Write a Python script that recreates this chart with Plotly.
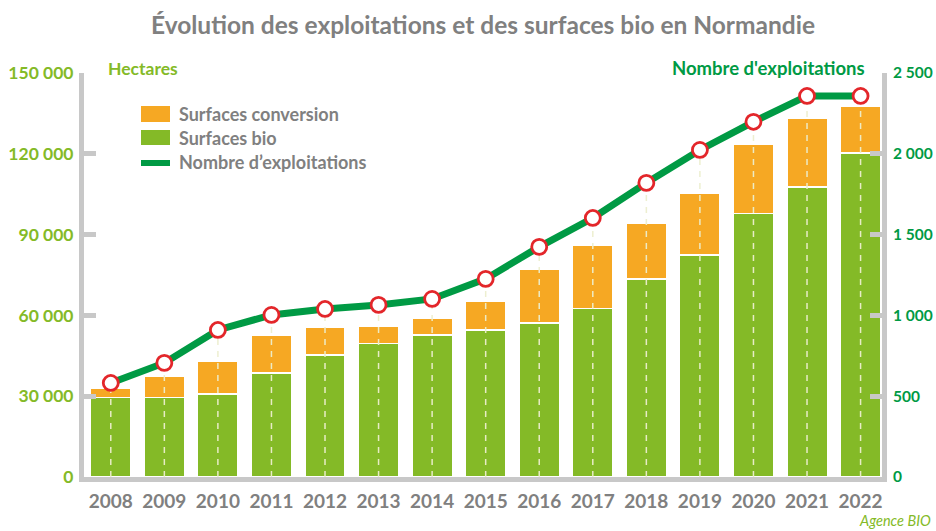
import plotly.graph_objects as go

years = ["2008", "2009", "2010", "2011", "2012", "2013", "2014", "2015",
         "2016", "2017", "2018", "2019", "2020", "2021", "2022"]
surfaces_bio = [29400, 29500, 30800, 38600, 45300, 49700, 52700, 54600,
                57200, 62700, 73500, 82400, 97800, 107700, 120300]
surfaces_totales = [33000, 37500, 43000, 52700, 55700, 56000, 59000, 65300,
                    76900, 86100, 94300, 105400, 123600, 133300, 137700]
exploitations = [582, 706, 910, 1003, 1040, 1065, 1102, 1226,
                 1424, 1603, 1820, 2024, 2198, 2358, 2358]
surfaces_conversion = [t - b for t, b in zip(surfaces_totales, surfaces_bio)]

left_ticks = [0, 30000, 60000, 90000, 120000, 150000]
left_text = ["0", "30 000", "60 000", "90 000", "120 000", "150 000"]
right_ticks = [0, 500, 1000, 1500, 2000, 2500]
right_text = ["0", "500", "1 000", "1 500", "2 000", "2 500"]

ORANGE = "#F6A823"
GREEN_BAR = "#84BA27"
GREEN_LINE = "#009A44"
RED = "#E3262A"
GREY = "#808080"
AXIS = "#C8C8C8"
FONT = "Lato"

def b(s):
    return "<b>" + s + "</b>"

fig = go.Figure()
fig.add_trace(go.Bar(x=years, y=surfaces_bio, name="Surfaces bio",
                     marker=dict(color=GREEN_BAR, line=dict(color="white", width=1.2)),
                     width=0.75, yaxis="y"))
fig.add_trace(go.Bar(x=years, y=surfaces_conversion, name="Surfaces conversion",
                     marker=dict(color=ORANGE, line=dict(color="white", width=1.2)),
                     width=0.75, yaxis="y"))

dx, dy = [], []
for yr, v in zip(years, exploitations):
    dx += [yr, yr, None]
    dy += [0, v, None]
fig.add_trace(go.Scatter(x=dx, y=dy, mode="lines", yaxis="y2", showlegend=False,
                         line=dict(color="rgba(236,238,205,0.95)", width=1.5, dash="6px,6px"),
                         hoverinfo="skip"))
fig.add_trace(go.Scatter(x=years, y=exploitations, mode="lines+markers", yaxis="y2",
                         name="Nombre d'exploitations",
                         line=dict(color=GREEN_LINE, width=7),
                         marker=dict(size=15, color="white", line=dict(color=RED, width=2.8))))

L, R, T, B = 84, 882, 73, 477
W, H = R - L, B - T
def px(x):
    return (x - L) / W
def py(y):
    return (B - y) / H

shapes = [
    dict(type="rect", xref="paper", yref="paper", x0=px(141), x1=px(170), y0=py(122), y1=py(106),
         fillcolor=ORANGE, line=dict(width=0)),
    dict(type="rect", xref="paper", yref="paper", x0=px(141), x1=px(170), y0=py(145), y1=py(130),
         fillcolor=GREEN_BAR, line=dict(width=0)),
    dict(type="rect", xref="paper", yref="paper", x0=px(141), x1=px(170), y0=py(166), y1=py(160),
         fillcolor=GREEN_LINE, line=dict(width=0)),
]
ann = []
for txt, yy in [("Surfaces conversion", 114), ("Surfaces bio", 138), ("Nombre d\u2019exploitations", 162)]:
    ann.append(dict(text=b(txt), xref="paper", yref="paper", x=px(177), y=py(yy),
                    xanchor="left", yanchor="middle", showarrow=False,
                    font=dict(family=FONT, size=18, color=GREY)))
ann.append(dict(text=b("Hectares"), xref="paper", yref="paper", x=px(106), y=py(68),
                xanchor="left", yanchor="middle", showarrow=False,
                font=dict(family=FONT, size=17.5, color=GREEN_BAR)))
ann.append(dict(text=b("Nombre d'exploitations"), xref="paper", yref="paper", x=px(867), y=py(68),
                xanchor="right", yanchor="middle", showarrow=False,
                font=dict(family=FONT, size=18.5, color=GREEN_LINE)))
ann.append(dict(text="<i>Agence BIO</i>", xref="paper", yref="paper", x=px(933), y=py(520),
                xanchor="right", yanchor="middle", showarrow=False,
                font=dict(family=FONT, size=14.5, color=GREEN_BAR)))

fig.update_layout(
    width=936, height=531,
    margin=dict(l=L, r=936 - R, t=T, b=531 - B, autoexpand=False),
    paper_bgcolor="white", plot_bgcolor="white",
    barmode="stack", bargap=0.25,
    showlegend=False,
    title=dict(text=b("Évolution des exploitations et des surfaces bio en Normandie"),
               x=0.5, xref="paper", y=1 - 25 / 531, yanchor="middle",
               font=dict(family=FONT, size=24.5, color=GREY)),
    xaxis=dict(range=[-0.5, 14.4], showgrid=False, showline=True, linecolor=AXIS, linewidth=5,
               ticks="", tickvals=years, ticktext=[b(y) for y in years],
               tickfont=dict(family=FONT, size=19, color=GREY),
               ticklabelstandoff=3, automargin=False, fixedrange=True),
    yaxis=dict(range=[0, 150000], tickvals=left_ticks, ticktext=[b(t) for t in left_text],
               showgrid=False, automargin=False,
               zeroline=False, showline=True, linecolor=AXIS, linewidth=5,
               ticks="inside", ticklen=12, tickwidth=5, tickcolor=AXIS,
               tickfont=dict(family=FONT, size=17.5, color=GREEN_BAR), ticklabelstandoff=2),
    yaxis2=dict(range=[0, 2500], tickvals=right_ticks, ticktext=[b(t) for t in right_text],
                overlaying="y", automargin=False,
                side="right", showgrid=False, zeroline=False, showline=True, linecolor=AXIS,
                linewidth=5, ticks="inside", ticklen=12, tickwidth=5, tickcolor=AXIS,
                tickfont=dict(family=FONT, size=15.5, color=GREEN_LINE), ticklabelstandoff=3),
    shapes=shapes, annotations=ann,
)

fig.write_html("out.html")
